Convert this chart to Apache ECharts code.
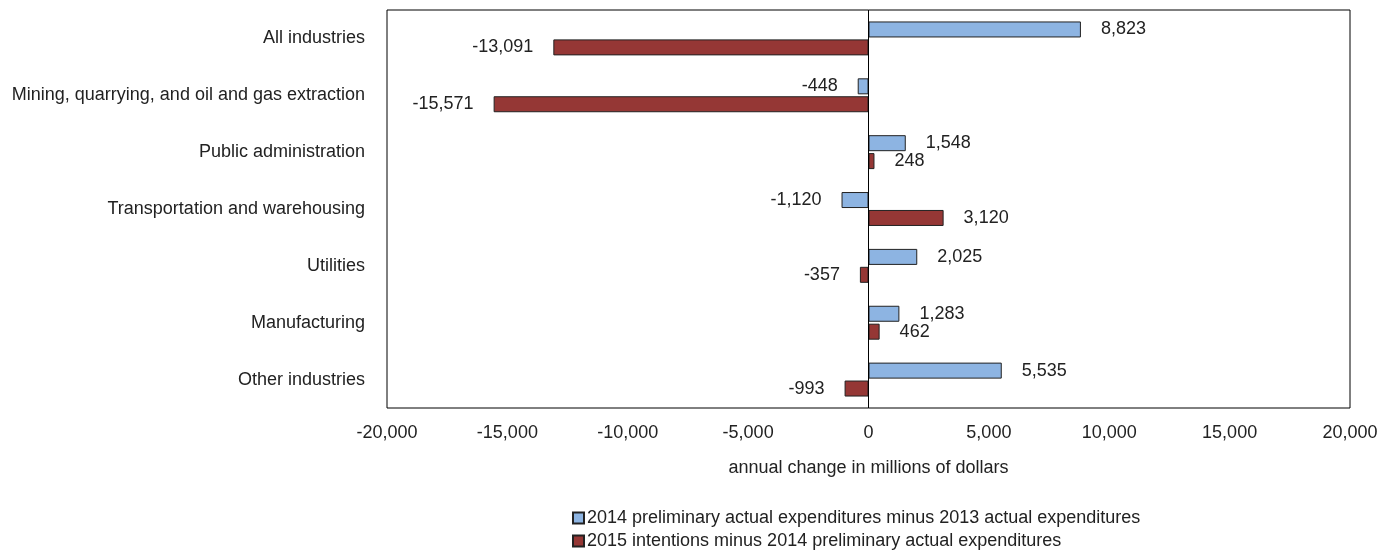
<!DOCTYPE html>
<html><head><meta charset="utf-8">
<script src="https://cdn.jsdelivr.net/npm/echarts@6/dist/echarts.min.js"></script>
<style>html,body{margin:0;padding:0;background:#fff}#c{width:1391px;height:555px}</style>
</head><body><div id="c"></div>
<script>
const categories = ["All industries", "Mining, quarrying, and oil and gas extraction", "Public administration", "Transportation and warehousing", "Utilities", "Manufacturing", "Other industries"];
const seriesNames = ["2014 preliminary actual expenditures minus 2013 actual expenditures", "2015 intentions minus 2014 preliminary actual expenditures"];
const values2014 = [8823, -448, 1548, -1120, 2025, 1283, 5535];
const values2015 = [-13091, -15571, 248, 3120, -357, 462, -993];
const axisTitle = "annual change in millions of dollars";

const FONT = "'Liberation Sans Narrow', 'Arial Narrow', 'Liberation Sans', sans-serif";
const FS = 18;
const fmt = v => v.toLocaleString('en-US');
const chart = echarts.init(document.getElementById('c'), null, {renderer: 'canvas'});
function mkSeries(name, data, color, withZero) {
  const s = {
    name, type: 'bar',
    barWidth: 16, barGap: '12%',
    itemStyle: {color, borderColor: '#222', borderWidth: 1},
    label: {
      show: true, distance: 20, fontFamily: FONT, fontSize: FS, color: '#222',
      formatter: p => fmt(p.value)
    }
  };
  s.data = data.map(v => ({value: v, label: {position: v < 0 ? 'left' : 'right'}}));
  if (withZero) {
    s.markLine = {silent: true, symbol: 'none', label: {show: false},
      lineStyle: {color: '#000', width: 1, type: 'solid'}, data: [{xAxis: 0}]};
  }
  return s;
}
chart.setOption({
  animation: false,
  textStyle: {fontFamily: FONT},
  grid: {left: 387, right: 41, top: 10, bottom: 147, show: true, borderColor: '#000', borderWidth: 1, backgroundColor: 'transparent'},
  xAxis: {
    type: 'value', min: -20000, max: 20000, interval: 5000,
    splitLine: {show: false}, axisTick: {show: false},
    axisLine: {show: false},
    axisLabel: {fontFamily: FONT, fontSize: FS, color: '#222', margin: 16, formatter: v => fmt(v)},
    name: axisTitle, nameLocation: 'middle', nameGap: 51,
    nameTextStyle: {fontFamily: FONT, fontSize: FS, color: '#222'}
  },
  yAxis: {
    type: 'category', data: categories, inverse: true,
    axisLine: {show: false}, axisTick: {show: false}, splitLine: {show: false},
    axisLabel: {fontFamily: FONT, fontSize: FS, color: '#222', margin: 22}
  },
  legend: {
    orient: 'vertical', left: 572, top: 509, height: 46, itemWidth: 11, itemHeight: 11, itemGap: 5,
    padding: 0,
    textStyle: {fontFamily: FONT, fontSize: FS, color: '#222', padding: [0, 0, 0, -2]},
    data: seriesNames.map(n => ({name: n, icon: 'rect'}))
  },
  series: [
    mkSeries(seriesNames[0], values2014, '#8DB4E2', true),
    mkSeries(seriesNames[1], values2015, '#953735', false)
  ]
});
</script></body></html>
